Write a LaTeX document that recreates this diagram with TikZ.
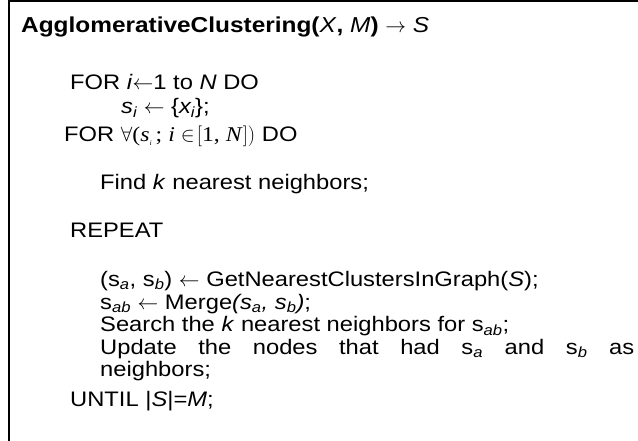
\documentclass[tikz,border=0pt]{standalone}
\usepackage{fontspec}
\setmainfont{Liberation Sans}[FakeStretch=1.13]
\newfontfamily\tms{Liberation Serif}[FakeStretch=1.13]
\begin{document}
\begin{tikzpicture}[x=1pt,y=-1pt,
  line/.style={anchor=base west,inner sep=0pt,font=\fontsize{21}{22.6}\selectfont},
  block/.style={line,align=left},
  head/.style={anchor=base west,inner sep=0pt,font=\fontsize{21.6}{26}\selectfont\bfseries}]
\useasboundingbox (0,0) rectangle (638,441);
% frame: only the top and left edges are drawn
\draw[line width=1.6pt] (638,1) -- (9,1) -- (9,441);
\node[head] (title) at (21,33) {AgglomerativeClustering(\mdseries\textit{X}\bfseries, \mdseries\textit{M}\bfseries) \mdseries$\rightarrow$ \textit{S}};
\node[line] (for1) at (70,90) {FOR \textit{i}$\leftarrow$1 to \textit{N} DO};
\node[line] (init) at (121,114) {\textit{s\textsubscript{i}} $\leftarrow$ \{\textit{x\textsubscript{i}}\};};
\node[line] (for2) at (64,142) {FOR {\tms $\forall$(\textit{s}$_{\textit{\scriptsize i}}$\,; \textit{i} $\in\!\bigl[$1, \textit{N}$\bigr]\bigr)$} DO};
\node[line] (find) at (100,190) {Find \textit{k} nearest neighbors;};
\node[line] (rep) at (70,238) {REPEAT};
% loop body, set as one block so that the lines keep a fixed pitch
\node[block,anchor=north west] (body) at (100,271) {%
  (s\textsubscript{\textit{a}}, s\textsubscript{\textit{b}}) $\leftarrow$ GetNearestClustersInGraph(\textit{S});\\
  s\textsubscript{\textit{ab}} $\leftarrow$ Merge\textit{(s\textsubscript{a}, s\textsubscript{b})};\\
  Search the \textit{k} nearest neighbors for s\textsubscript{\textit{ab}};\\
  \hbox to 534pt{Update\hfill the\hfill nodes\hfill that\hfill had\hfill s\textsubscript{\textit{a}}\hfill and\hfill s\textsubscript{\textit{b}}\hfill as}\\
  neighbors;};
\node[line] (until) at (70,406) {UNTIL |\textit{S}|=\textit{M};};
\end{tikzpicture}
\end{document}
